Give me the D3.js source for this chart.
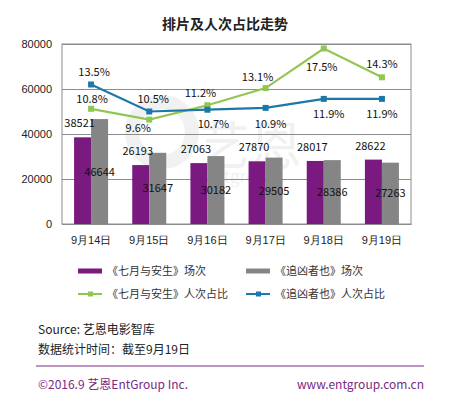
<!DOCTYPE html>
<html>
<head>
<meta charset="utf-8">
<script src="https://cdn.jsdelivr.net/npm/d3@7"></script>
<style>
  html, body { margin: 0; padding: 0; background: #fff; }
  svg { display: block; font-family: "Microsoft YaHei", "Noto Sans CJK SC", "Noto Sans", sans-serif; }
</style>
</head>
<body>
<svg id="chart" width="450" height="398"></svg>
<script>
// chart data
const days = ["9月14日", "9月15日", "9月16日", "9月17日", "9月18日", "9月19日"];
const qiyueShows = [38521, 26193, 27063, 27870, 28017, 28622];
const zhuixiongShows = [46644, 31647, 30182, 29505, 28386, 27263];
const qiyueShare = [10.8, 9.6, 11.2, 13.1, 17.5, 14.3];
const zhuixiongShare = [13.5, 10.5, 10.7, 10.9, 11.9, 11.9];
const yTicks = [0, 20000, 40000, 60000, 80000];

const seriesNames = {
  barA: "《七月与安生》场次",
  barB: "《追凶者也》场次",
  lineA: "《七月与安生》人次占比",
  lineB: "《追凶者也》人次占比"
};

const colors = {
  purple: "#7a1a80",
  gray: "#858585",
  green: "#92c653",
  blue: "#1b78a8",
  brand: "#7a2a84"
};

const svg = d3.select("#chart");
const plot = { left: 62, right: 411, top: 44, bottom: 224 };

const x0 = d3.scaleBand().domain(days).range([plot.left, plot.right]).padding(0);
const x1 = d3.scaleBand().domain(["a", "b"]).range([0, x0.bandwidth()])
  .paddingInner(0).paddingOuter(0.71);
const y = d3.scaleLinear().domain([0, 80000]).range([plot.bottom, plot.top]);
// hidden secondary axis for the percentages
const y2 = d3.scaleLinear().domain([-2, 18]).range([plot.bottom, plot.top]);
const cx = (d) => x0(d) + x0.bandwidth() / 2;

// title
svg.append("text")
  .attr("x", 225).attr("y", 29)
  .attr("text-anchor", "middle")
  .attr("font-size", 14).attr("font-weight", "bold").attr("fill", "#222")
  .text("排片及人次占比走势");

// faint watermark
const wm = svg.append("g").attr("fill", "#000").attr("opacity", 0.05);
wm.append("circle").attr("cx", 162).attr("cy", 132).attr("r", 30)
  .attr("fill", "none").attr("stroke", "#000").attr("stroke-width", 14);
wm.append("text").attr("x", 198).attr("y", 165).attr("font-size", 52).text("艺恩");
wm.append("text").attr("x", 204).attr("y", 183).attr("font-size", 17).text("entgroup");

// gridlines + y axis
const yAxis = svg.append("g")
  .attr("transform", `translate(${plot.left},0)`)
  .call(d3.axisLeft(y).tickValues(yTicks).tickFormat(d3.format("d"))
    .tickSize(-(plot.right - plot.left)).tickPadding(10));
yAxis.select(".domain").remove();
yAxis.selectAll(".tick line").attr("stroke", "#8c8c8c");
yAxis.selectAll(".tick text").attr("font-size", 11).attr("fill", "#222");

// plot frame
svg.append("rect")
  .attr("x", plot.left).attr("y", plot.top)
  .attr("width", plot.right - plot.left).attr("height", plot.bottom - plot.top)
  .attr("fill", "none").attr("stroke", "#8c8c8c");

// x axis labels
const xAxis = svg.append("g")
  .attr("transform", `translate(0,${plot.bottom})`)
  .call(d3.axisBottom(x0).tickSize(0).tickPadding(12));
xAxis.select(".domain").attr("stroke", "#8c8c8c");
xAxis.selectAll(".tick text").attr("font-size", 11).attr("fill", "#222");

// bars
const bars = svg.append("g");
bars.selectAll("rect.a").data(days).join("rect")
  .attr("class", "a")
  .attr("x", (d) => x0(d) + x1("a"))
  .attr("y", (d, i) => y(qiyueShows[i]))
  .attr("width", x1.bandwidth())
  .attr("height", (d, i) => y(0) - y(qiyueShows[i]))
  .attr("fill", colors.purple);
bars.selectAll("rect.b").data(days).join("rect")
  .attr("class", "b")
  .attr("x", (d) => x0(d) + x1("b"))
  .attr("y", (d, i) => y(zhuixiongShows[i]))
  .attr("width", x1.bandwidth())
  .attr("height", (d, i) => y(0) - y(zhuixiongShows[i]))
  .attr("fill", colors.gray);

// lines
function drawLine(values, color) {
  const line = d3.line().x((d, i) => cx(days[i])).y((d) => y2(d));
  svg.append("path").datum(values)
    .attr("d", line).attr("fill", "none")
    .attr("stroke", color).attr("stroke-width", 2.2);
  svg.append("g").selectAll("rect").data(values).join("rect")
    .attr("x", (d, i) => cx(days[i]) - 3)
    .attr("y", (d) => y2(d) - 3)
    .attr("width", 6).attr("height", 6)
    .attr("fill", color);
}
drawLine(qiyueShare, colors.green);
drawLine(zhuixiongShare, colors.blue);

// data labels
const labels = svg.append("g").attr("font-size", 11).attr("fill", "#111").attr("text-anchor", "middle");
labels.selectAll("text.a").data(qiyueShows).join("text")
  .attr("x", (d, i) => x0(days[i]) + x1("a") + x1.bandwidth() / 2 - 3)
  .attr("y", (d) => y(d) - 10)
  .text((d) => d);
labels.selectAll("text.b").data(zhuixiongShows).join("text")
  .attr("x", (d, i) => x0(days[i]) + x1("b") + x1.bandwidth() / 2)
  .attr("y", (d) => (y(d) + y(0)) / 2 + 4)
  .text((d) => d);

// percent label placement: [dx, dy] from the marker
const greenPlace = [[1, -6], [-11, 12], [-7, -8], [-8, -7], [-2, 22], [0, -9]];
const bluePlace = [[3, -9], [4, -9], [6, 18], [5, 20], [5, 19], [0, 19]];
labels.selectAll("text.ga").data(qiyueShare).join("text")
  .attr("x", (d, i) => cx(days[i]) + greenPlace[i][0])
  .attr("y", (d, i) => y2(d) + greenPlace[i][1])
  .text((d) => d.toFixed(1) + "%");
labels.selectAll("text.ba").data(zhuixiongShare).join("text")
  .attr("x", (d, i) => cx(days[i]) + bluePlace[i][0])
  .attr("y", (d, i) => y2(d) + bluePlace[i][1])
  .text((d) => d.toFixed(1) + "%");

// legend
const legend = svg.append("g").attr("font-size", 11).attr("fill", "#333");
const legendItems = [
  { name: seriesNames.barA, color: colors.purple, type: "bar", x: 78, y: 271 },
  { name: seriesNames.barB, color: colors.gray, type: "bar", x: 246, y: 271 },
  { name: seriesNames.lineA, color: colors.green, type: "line", x: 78, y: 294 },
  { name: seriesNames.lineB, color: colors.blue, type: "line", x: 246, y: 294 }
];
legendItems.forEach((it) => {
  const g = legend.append("g").attr("transform", `translate(${it.x},${it.y})`);
  if (it.type === "bar") {
    g.append("rect").attr("x", 0).attr("y", -2.5).attr("width", 24).attr("height", 5).attr("fill", it.color);
  } else {
    g.append("line").attr("x1", 0).attr("x2", 24).attr("y1", 0).attr("y2", 0)
      .attr("stroke", it.color).attr("stroke-width", 2);
    g.append("rect").attr("x", 10).attr("y", -2.5).attr("width", 5).attr("height", 5).attr("fill", it.color);
  }
  g.append("text").attr("x", 29).attr("y", 4).text(it.name);
});

// source notes
svg.append("text").attr("x", 38).attr("y", 334).attr("font-size", 12).attr("fill", "#222")
  .text("Source: 艺恩电影智库");
svg.append("text").attr("x", 38).attr("y", 354).attr("font-size", 12).attr("fill", "#222")
  .text("数据统计时间：截至9月19日");

// footer
svg.append("line").attr("x1", 36).attr("x2", 424).attr("y1", 366).attr("y2", 366)
  .attr("stroke", colors.brand).attr("stroke-width", 1);
svg.append("text").attr("x", 38).attr("y", 389).attr("font-size", 12).attr("fill", colors.brand)
  .text("©2016.9 艺恩EntGroup Inc.");
svg.append("text").attr("x", 424).attr("y", 389).attr("font-size", 12).attr("fill", colors.brand)
  .attr("text-anchor", "end")
  .text("www.entgroup.com.cn");
</script>
</body>
</html>
